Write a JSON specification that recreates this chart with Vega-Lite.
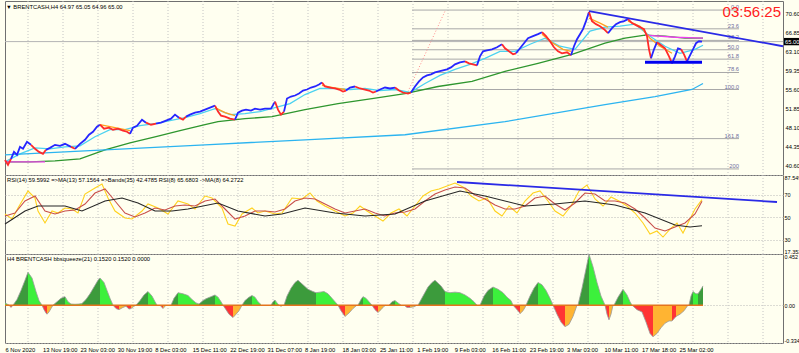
{
"$schema":"https://vega.github.io/schema/vega-lite/v6.json",
"padding":0,
"background":"#fffff0",
"spacing":0,
"bounds":"flush",
"config":{
 "view":{"stroke":"#707070","fill":"#fffff0"},
 "font":"Liberation Sans",
 "axis":{"labelFont":"Liberation Sans","labelFontSize":5.8,"labelColor":"#000000","ticks":false,"tickSize":0,"domain":false,"title":null,"labelPadding":2},
 "axisX":{"labelExpr":"['6 Nov 2020','13 Nov 19:00','23 Nov 03:00','30 Nov 19:00','8 Dec 03:00','15 Dec 11:00','22 Dec 19:00','31 Dec 07:00','8 Jan 19:00','18 Jan 03:00','25 Jan 11:00','1 Feb 19:00','9 Feb 03:00','16 Feb 11:00','23 Feb 19:00','3 Mar 03:00','10 Mar 11:00','17 Mar 18:00','25 Mar 02:00'][round(datum.value/37.44)]",
   "labelAlign":"left","labelBaseline":"top","labelOverlap":false,"labelFlush":false,"grid":false,"labelPadding":3}
},
"datasets":{
 "grid":[{"g":23},{"g":58},{"g":93},{"g":128},{"g":163},{"g":198},{"g":233},{"g":268},{"g":303},{"g":338},{"g":373},{"g":408},{"g":443},{"g":478},{"g":513},{"g":548},{"g":583},{"g":618},{"g":653},{"g":688},{"g":723},{"g":758}],
 "fib":[{"lvl":"0.0","p":71.19},{"lvl":"23.6","p":67.51},{"lvl":"38.2","p":65.24},{"lvl":"50.0","p":63.4},{"lvl":"61.8","p":61.56},{"lvl":"78.6","p":58.94},{"lvl":"100.0","p":55.6},{"lvl":"161.8","p":45.96},{"lvl":"200","p":40.01}],
 "price":[
{"x":0,"p":41.78,"s":1,"c":"d"},{"x":3,"p":40.8,"s":1,"c":"d"},{"x":6,"p":41.98,"s":1,"c":"d"},
{"x":6,"p":41.98,"s":2,"c":"u"},{"x":9,"p":43.36,"s":2,"c":"u"},{"x":12,"p":42.77,"s":2,"c":"u"},{"x":15,"p":44.35,"s":2,"c":"u"},{"x":18,"p":43.96,"s":2,"c":"u"},{"x":22,"p":45.34,"s":2,"c":"u"},{"x":26,"p":44.74,"s":2,"c":"u"},
{"x":26,"p":44.74,"s":3,"c":"d"},{"x":30,"p":43.96,"s":3,"c":"d"},{"x":34,"p":43.36,"s":3,"c":"d"},{"x":38,"p":42.97,"s":3,"c":"d"},{"x":41,"p":43.76,"s":3,"c":"d"},
{"x":41,"p":43.76,"s":4,"c":"u"},{"x":45,"p":44.15,"s":4,"c":"u"},{"x":50,"p":44.74,"s":4,"c":"u"},{"x":55,"p":44.55,"s":4,"c":"u"},{"x":60,"p":44.94,"s":4,"c":"u"},{"x":66,"p":44.35,"s":4,"c":"u"},
{"x":66,"p":44.35,"s":5,"c":"d"},{"x":70,"p":43.96,"s":5,"c":"d"},
{"x":70,"p":43.96,"s":6,"c":"u"},{"x":75,"p":44.94,"s":6,"c":"u"},{"x":80,"p":45.73,"s":6,"c":"u"},{"x":84,"p":46.72,"s":6,"c":"u"},{"x":88,"p":47.31,"s":6,"c":"u"},{"x":92,"p":48.3,"s":6,"c":"u"},{"x":95,"p":48.69,"s":6,"c":"u"},
{"x":95,"p":48.69,"s":7,"c":"d"},{"x":99,"p":47.9,"s":7,"c":"d"},{"x":104,"p":48.1,"s":7,"c":"d"},{"x":108,"p":47.71,"s":7,"c":"d"},{"x":113,"p":47.9,"s":7,"c":"d"},{"x":118,"p":47.51,"s":7,"c":"d"},{"x":122,"p":47.31,"s":7,"c":"d"},{"x":125,"p":46.92,"s":7,"c":"d"},
{"x":125,"p":46.92,"s":8,"c":"u"},{"x":128,"p":48.1,"s":8,"c":"u"},{"x":132,"p":48.49,"s":8,"c":"u"},{"x":137,"p":49.68,"s":8,"c":"u"},{"x":141,"p":49.09,"s":8,"c":"u"},
{"x":141,"p":49.09,"s":9,"c":"d"},{"x":146,"p":48.69,"s":9,"c":"d"},{"x":151,"p":48.89,"s":9,"c":"d"},
{"x":151,"p":48.89,"s":10,"c":"u"},{"x":156,"p":49.09,"s":10,"c":"u"},{"x":161,"p":49.48,"s":10,"c":"u"},{"x":166,"p":49.88,"s":10,"c":"u"},{"x":170,"p":50.67,"s":10,"c":"u"},{"x":174,"p":50.07,"s":10,"c":"u"},
{"x":174,"p":50.07,"s":11,"c":"d"},{"x":178,"p":49.68,"s":11,"c":"d"},{"x":181,"p":50.27,"s":11,"c":"d"},
{"x":181,"p":50.27,"s":12,"c":"u"},{"x":185,"p":50.67,"s":12,"c":"u"},{"x":190,"p":51.06,"s":12,"c":"u"},{"x":195,"p":51.26,"s":12,"c":"u"},{"x":200,"p":51.65,"s":12,"c":"u"},{"x":205,"p":52.05,"s":12,"c":"u"},{"x":210,"p":52.44,"s":12,"c":"u"},
{"x":210,"p":52.44,"s":13,"c":"d"},{"x":213,"p":51.26,"s":13,"c":"d"},{"x":216,"p":50.47,"s":13,"c":"d"},{"x":220,"p":50.27,"s":13,"c":"d"},{"x":225,"p":49.88,"s":13,"c":"d"},{"x":230,"p":49.68,"s":13,"c":"d"},
{"x":230,"p":49.68,"s":14,"c":"u"},{"x":233,"p":51.06,"s":14,"c":"u"},{"x":237,"p":51.46,"s":14,"c":"u"},{"x":241,"p":51.65,"s":14,"c":"u"},{"x":246,"p":51.46,"s":14,"c":"u"},{"x":250,"p":51.85,"s":14,"c":"u"},{"x":255,"p":51.65,"s":14,"c":"u"},{"x":260,"p":51.85,"s":14,"c":"u"},{"x":266,"p":51.85,"s":14,"c":"u"},{"x":270,"p":53.23,"s":14,"c":"u"},
{"x":270,"p":53.23,"s":15,"c":"d"},{"x":273,"p":51.65,"s":15,"c":"d"},{"x":276,"p":50.67,"s":15,"c":"d"},{"x":279,"p":51.26,"s":15,"c":"d"},
{"x":279,"p":51.26,"s":16,"c":"u"},{"x":282,"p":53.82,"s":16,"c":"u"},{"x":286,"p":54.22,"s":16,"c":"u"},{"x":290,"p":54.42,"s":16,"c":"u"},{"x":294,"p":54.81,"s":16,"c":"u"},{"x":298,"p":55.4,"s":16,"c":"u"},{"x":302,"p":55.6,"s":16,"c":"u"},{"x":306,"p":55.99,"s":16,"c":"u"},{"x":310,"p":56.19,"s":16,"c":"u"},{"x":314,"p":56.59,"s":16,"c":"u"},{"x":317,"p":56.98,"s":16,"c":"u"},
{"x":317,"p":56.98,"s":17,"c":"d"},{"x":320,"p":56.19,"s":17,"c":"d"},{"x":325,"p":55.99,"s":17,"c":"d"},{"x":330,"p":55.8,"s":17,"c":"d"},{"x":334,"p":55.6,"s":17,"c":"d"},{"x":338,"p":55.21,"s":17,"c":"d"},{"x":341,"p":55.4,"s":17,"c":"d"},
{"x":341,"p":55.4,"s":18,"c":"u"},{"x":345,"p":55.99,"s":18,"c":"u"},{"x":350,"p":56.19,"s":18,"c":"u"},
{"x":350,"p":56.19,"s":19,"c":"d"},{"x":355,"p":55.8,"s":19,"c":"d"},{"x":360,"p":55.6,"s":19,"c":"d"},{"x":364,"p":55.4,"s":19,"c":"d"},{"x":368,"p":55.01,"s":19,"c":"d"},{"x":371,"p":55.21,"s":19,"c":"d"},
{"x":371,"p":55.21,"s":20,"c":"u"},{"x":375,"p":55.6,"s":20,"c":"u"},{"x":380,"p":55.99,"s":20,"c":"u"},{"x":385,"p":55.8,"s":20,"c":"u"},{"x":390,"p":55.99,"s":20,"c":"u"},
{"x":390,"p":55.99,"s":21,"c":"d"},{"x":394,"p":55.4,"s":21,"c":"d"},{"x":398,"p":55.01,"s":21,"c":"d"},{"x":403,"p":54.81,"s":21,"c":"d"},{"x":406,"p":55.01,"s":21,"c":"d"},
{"x":406,"p":55.01,"s":22,"c":"u"},{"x":410,"p":56.19,"s":22,"c":"u"},{"x":414,"p":57.18,"s":22,"c":"u"},{"x":418,"p":57.97,"s":22,"c":"u"},{"x":422,"p":58.36,"s":22,"c":"u"},{"x":426,"p":58.56,"s":22,"c":"u"},{"x":430,"p":58.96,"s":22,"c":"u"},{"x":434,"p":59.15,"s":22,"c":"u"},{"x":438,"p":59.35,"s":22,"c":"u"},{"x":442,"p":59.55,"s":22,"c":"u"},{"x":446,"p":59.94,"s":22,"c":"u"},{"x":450,"p":60.53,"s":22,"c":"u"},{"x":455,"p":60.93,"s":22,"c":"u"},{"x":460,"p":61.13,"s":22,"c":"u"},
{"x":460,"p":61.13,"s":23,"c":"d"},{"x":464,"p":60.73,"s":23,"c":"d"},{"x":468,"p":60.53,"s":23,"c":"d"},{"x":472,"p":60.34,"s":23,"c":"d"},
{"x":472,"p":60.34,"s":24,"c":"u"},{"x":475,"p":62.11,"s":24,"c":"u"},{"x":478,"p":63.1,"s":24,"c":"u"},{"x":482,"p":63.3,"s":24,"c":"u"},{"x":487,"p":63.49,"s":24,"c":"u"},{"x":492,"p":63.89,"s":24,"c":"u"},{"x":497,"p":64.48,"s":24,"c":"u"},
{"x":497,"p":64.48,"s":25,"c":"d"},{"x":500,"p":63.69,"s":25,"c":"d"},{"x":504,"p":63.1,"s":25,"c":"d"},{"x":508,"p":62.51,"s":25,"c":"d"},{"x":511,"p":62.71,"s":25,"c":"d"},
{"x":511,"p":62.71,"s":26,"c":"u"},{"x":515,"p":63.69,"s":26,"c":"u"},{"x":519,"p":64.68,"s":26,"c":"u"},{"x":523,"p":65.67,"s":26,"c":"u"},{"x":528,"p":66.06,"s":26,"c":"u"},{"x":533,"p":66.46,"s":26,"c":"u"},{"x":537,"p":66.85,"s":26,"c":"u"},
{"x":537,"p":66.85,"s":27,"c":"d"},{"x":541,"p":66.06,"s":27,"c":"d"},{"x":545,"p":65.07,"s":27,"c":"d"},{"x":549,"p":63.89,"s":27,"c":"d"},{"x":553,"p":63.1,"s":27,"c":"d"},{"x":557,"p":62.71,"s":27,"c":"d"},{"x":562,"p":62.9,"s":27,"c":"d"},{"x":566,"p":62.31,"s":27,"c":"d"},
{"x":566,"p":62.31,"s":28,"c":"u"},{"x":569,"p":64.09,"s":28,"c":"u"},{"x":572,"p":65.47,"s":28,"c":"u"},{"x":575,"p":66.46,"s":28,"c":"u"},{"x":578,"p":67.44,"s":28,"c":"u"},{"x":581,"p":69.02,"s":28,"c":"u"},{"x":584,"p":70.8,"s":28,"c":"u"},
{"x":584,"p":70.8,"s":29,"c":"d"},{"x":587,"p":69.02,"s":29,"c":"d"},{"x":591,"p":68.43,"s":29,"c":"d"},{"x":595,"p":68.03,"s":29,"c":"d"},{"x":599,"p":67.44,"s":29,"c":"d"},{"x":603,"p":66.65,"s":29,"c":"d"},
{"x":603,"p":66.65,"s":30,"c":"u"},{"x":607,"p":67.64,"s":30,"c":"u"},{"x":611,"p":68.43,"s":30,"c":"u"},{"x":615,"p":68.82,"s":30,"c":"u"},{"x":619,"p":69.02,"s":30,"c":"u"},{"x":623,"p":69.42,"s":30,"c":"u"},
{"x":623,"p":69.42,"s":31,"c":"d"},{"x":627,"p":68.63,"s":31,"c":"d"},{"x":631,"p":68.23,"s":31,"c":"d"},{"x":635,"p":67.84,"s":31,"c":"d"},{"x":639,"p":67.44,"s":31,"c":"d"},{"x":642,"p":66.06,"s":31,"c":"d"},{"x":644,"p":63.49,"s":31,"c":"d"},{"x":646,"p":61.72,"s":31,"c":"d"},
{"x":646,"p":61.72,"s":32,"c":"u"},{"x":649,"p":63.49,"s":32,"c":"u"},{"x":652,"p":64.88,"s":32,"c":"u"},
{"x":652,"p":64.88,"s":33,"c":"d"},{"x":656,"p":64.28,"s":33,"c":"d"},{"x":660,"p":63.69,"s":33,"c":"d"},{"x":664,"p":62.11,"s":33,"c":"d"},{"x":667,"p":60.73,"s":33,"c":"d"},
{"x":667,"p":60.73,"s":34,"c":"u"},{"x":670,"p":62.11,"s":34,"c":"u"},{"x":673,"p":63.69,"s":34,"c":"u"},{"x":676,"p":63.49,"s":34,"c":"u"},
{"x":676,"p":63.49,"s":35,"c":"d"},{"x":679,"p":62.51,"s":35,"c":"d"},{"x":682,"p":61.13,"s":35,"c":"d"},
{"x":682,"p":61.13,"s":36,"c":"u"},{"x":685,"p":62.31,"s":36,"c":"u"},{"x":688,"p":63.49,"s":36,"c":"u"},{"x":691,"p":64.68,"s":36,"c":"u"},{"x":694,"p":65.07,"s":36,"c":"u"},{"x":697,"p":65.0,"s":36,"c":"u"}
 ],
 "ma":[
{"x":0,"p":41.39,"k":"fast"},{"x":15,"p":42.97,"k":"fast"},{"x":30,"p":44.15,"k":"fast"},{"x":45,"p":43.96,"k":"fast"},{"x":60,"p":44.35,"k":"fast"},{"x":75,"p":44.55,"k":"fast"},{"x":90,"p":46.32,"k":"fast"},{"x":105,"p":47.71,"k":"fast"},{"x":120,"p":47.71,"k":"fast"},{"x":135,"p":48.49,"k":"fast"},{"x":150,"p":48.89,"k":"fast"},{"x":165,"p":49.48,"k":"fast"},{"x":180,"p":50.07,"k":"fast"},{"x":195,"p":50.86,"k":"fast"},{"x":210,"p":51.85,"k":"fast"},{"x":225,"p":50.67,"k":"fast"},{"x":240,"p":50.86,"k":"fast"},{"x":255,"p":51.26,"k":"fast"},{"x":270,"p":52.05,"k":"fast"},{"x":285,"p":52.84,"k":"fast"},{"x":300,"p":54.61,"k":"fast"},{"x":315,"p":55.8,"k":"fast"},{"x":330,"p":55.8,"k":"fast"},{"x":345,"p":55.6,"k":"fast"},{"x":360,"p":55.8,"k":"fast"},{"x":375,"p":55.4,"k":"fast"},{"x":390,"p":55.6,"k":"fast"},{"x":405,"p":55.01,"k":"fast"},{"x":420,"p":56.78,"k":"fast"},{"x":435,"p":58.36,"k":"fast"},{"x":450,"p":59.55,"k":"fast"},{"x":465,"p":60.53,"k":"fast"},{"x":480,"p":61.72,"k":"fast"},{"x":495,"p":63.1,"k":"fast"},{"x":510,"p":63.1,"k":"fast"},{"x":525,"p":64.48,"k":"fast"},{"x":540,"p":65.67,"k":"fast"},{"x":555,"p":64.09,"k":"fast"},{"x":570,"p":63.49,"k":"fast"},{"x":585,"p":67.05,"k":"fast"},{"x":600,"p":67.84,"k":"fast"},{"x":615,"p":68.03,"k":"fast"},{"x":630,"p":68.43,"k":"fast"},{"x":645,"p":66.06,"k":"fast"},{"x":660,"p":64.09,"k":"fast"},{"x":675,"p":62.71,"k":"fast"},{"x":690,"p":63.49,"k":"fast"},{"x":698,"p":64.28,"k":"fast"},
{"x":0,"p":41.39,"k":"green"},{"x":25,"p":41.39,"k":"green"},{"x":50,"p":41.59,"k":"green"},{"x":75,"p":41.98,"k":"green"},{"x":100,"p":43.76,"k":"green"},{"x":125,"p":45.14,"k":"green"},{"x":150,"p":46.32,"k":"green"},{"x":175,"p":47.51,"k":"green"},{"x":200,"p":48.69,"k":"green"},{"x":213,"p":49.28,"k":"green"},{"x":240,"p":49.88,"k":"green"},{"x":267,"p":50.27,"k":"green"},{"x":300,"p":51.65,"k":"green"},{"x":333,"p":52.84,"k":"green"},{"x":367,"p":53.82,"k":"green"},{"x":400,"p":54.81,"k":"green"},{"x":433,"p":56.19,"k":"green"},{"x":467,"p":57.18,"k":"green"},{"x":500,"p":59.15,"k":"green"},{"x":533,"p":60.73,"k":"green"},{"x":567,"p":62.51,"k":"green"},{"x":600,"p":64.68,"k":"green"},{"x":620,"p":65.67,"k":"green"},{"x":640,"p":66.26,"k":"green"},{"x":660,"p":66.06,"k":"green"},{"x":680,"p":65.67,"k":"green"},{"x":698,"p":65.67,"k":"green"},
{"x":0,"p":42.77,"k":"sky"},{"x":100,"p":43.76,"k":"sky"},{"x":200,"p":44.74,"k":"sky"},{"x":300,"p":45.73,"k":"sky"},{"x":400,"p":46.72,"k":"sky"},{"x":500,"p":49.28,"k":"sky"},{"x":600,"p":52.64,"k":"sky"},{"x":650,"p":54.22,"k":"sky"},{"x":687,"p":55.6,"k":"sky"},{"x":698,"p":56.78,"k":"sky"},
{"x":0,"p":41.39,"k":"mag1"},{"x":40,"p":41.39,"k":"mag1"},
{"x":640,"p":66.26,"k":"mag2"},{"x":670,"p":65.86,"k":"mag2"},{"x":698,"p":65.67,"k":"mag2"},
{"x":95,"p":48.69,"k":"o1"},{"x":105,"p":48.3,"k":"o1"},{"x":115,"p":47.9,"k":"o1"},{"x":125,"p":47.51,"k":"o1"},
{"x":210,"p":52.05,"k":"o2"},{"x":220,"p":51.06,"k":"o2"},{"x":230,"p":50.47,"k":"o2"},
{"x":317,"p":56.39,"k":"o3"},{"x":328,"p":55.99,"k":"o3"},{"x":340,"p":55.6,"k":"o3"},
{"x":537,"p":66.46,"k":"o4"},{"x":548,"p":64.68,"k":"o4"},{"x":558,"p":63.49,"k":"o4"},{"x":566,"p":63.1,"k":"o4"},
{"x":584,"p":69.61,"k":"o5"},{"x":595,"p":68.63,"k":"o5"},{"x":603,"p":67.84,"k":"o5"},
{"x":623,"p":69.02,"k":"o6"},{"x":635,"p":68.03,"k":"o6"},{"x":645,"p":65.67,"k":"o6"},{"x":655,"p":64.09,"k":"o6"},{"x":667,"p":62.71,"k":"o6"}
 ],
 "trend":[{"x":584,"p":70.99,"k":"t"},{"x":778,"p":64.09,"k":"t"},{"x":640,"p":60.93,"k":"s"},{"x":697,"p":60.93,"k":"s"}],
 "rsi":[
{"x":0,"v":52.88,"k":"y"},{"x":7,"v":48.44,"k":"y"},{"x":13,"v":58.22,"k":"y"},{"x":23,"v":73.33,"k":"y"},{"x":30,"v":67.11,"k":"y"},{"x":33,"v":55.55,"k":"y"},{"x":40,"v":44.88,"k":"y"},{"x":47,"v":55.55,"k":"y"},{"x":53,"v":53.77,"k":"y"},{"x":60,"v":58.22,"k":"y"},{"x":67,"v":57.33,"k":"y"},{"x":73,"v":53.77,"k":"y"},{"x":80,"v":70.66,"k":"y"},{"x":90,"v":75.99,"k":"y"},{"x":97,"v":79.55,"k":"y"},{"x":103,"v":67.11,"k":"y"},{"x":110,"v":55.55,"k":"y"},{"x":120,"v":49.33,"k":"y"},{"x":127,"v":48.44,"k":"y"},{"x":137,"v":55.55,"k":"y"},{"x":143,"v":61.77,"k":"y"},{"x":153,"v":58.22,"k":"y"},{"x":163,"v":52.88,"k":"y"},{"x":173,"v":64.44,"k":"y"},{"x":183,"v":61.77,"k":"y"},{"x":190,"v":57.33,"k":"y"},{"x":200,"v":68.88,"k":"y"},{"x":207,"v":67.11,"k":"y"},{"x":217,"v":58.22,"k":"y"},{"x":223,"v":43.99,"k":"y"},{"x":230,"v":42.21,"k":"y"},{"x":237,"v":52.88,"k":"y"},{"x":247,"v":58.22,"k":"y"},{"x":253,"v":53.77,"k":"y"},{"x":260,"v":55.55,"k":"y"},{"x":270,"v":52.88,"k":"y"},{"x":277,"v":53.77,"k":"y"},{"x":287,"v":67.11,"k":"y"},{"x":297,"v":66.22,"k":"y"},{"x":305,"v":71.55,"k":"y"},{"x":312,"v":64.44,"k":"y"},{"x":320,"v":59.99,"k":"y"},{"x":330,"v":55.55,"k":"y"},{"x":340,"v":51.1,"k":"y"},{"x":348,"v":53.77,"k":"y"},{"x":355,"v":59.99,"k":"y"},{"x":362,"v":55.55,"k":"y"},{"x":370,"v":51.1,"k":"y"},{"x":378,"v":46.66,"k":"y"},{"x":386,"v":53.77,"k":"y"},{"x":394,"v":57.33,"k":"y"},{"x":402,"v":51.1,"k":"y"},{"x":410,"v":59.99,"k":"y"},{"x":418,"v":68.88,"k":"y"},{"x":426,"v":73.33,"k":"y"},{"x":434,"v":75.11,"k":"y"},{"x":442,"v":77.77,"k":"y"},{"x":450,"v":80.44,"k":"y"},{"x":458,"v":76.88,"k":"y"},{"x":466,"v":68.88,"k":"y"},{"x":474,"v":64.44,"k":"y"},{"x":482,"v":67.11,"k":"y"},{"x":490,"v":55.55,"k":"y"},{"x":497,"v":51.1,"k":"y"},{"x":504,"v":59.99,"k":"y"},{"x":512,"v":53.77,"k":"y"},{"x":520,"v":64.44,"k":"y"},{"x":528,"v":71.55,"k":"y"},{"x":535,"v":73.33,"k":"y"},{"x":543,"v":64.44,"k":"y"},{"x":550,"v":55.55,"k":"y"},{"x":558,"v":51.1,"k":"y"},{"x":566,"v":59.99,"k":"y"},{"x":574,"v":73.33,"k":"y"},{"x":582,"v":78.66,"k":"y"},{"x":590,"v":66.22,"k":"y"},{"x":598,"v":59.99,"k":"y"},{"x":606,"v":67.99,"k":"y"},{"x":614,"v":64.44,"k":"y"},{"x":622,"v":59.99,"k":"y"},{"x":630,"v":53.77,"k":"y"},{"x":638,"v":44.88,"k":"y"},{"x":645,"v":35.1,"k":"y"},{"x":652,"v":37.77,"k":"y"},{"x":658,"v":32.44,"k":"y"},{"x":665,"v":39.55,"k":"y"},{"x":672,"v":44.88,"k":"y"},{"x":678,"v":36.0,"k":"y"},{"x":684,"v":46.66,"k":"y"},{"x":690,"v":57.33,"k":"y"},{"x":697,"v":65.68,"k":"y"},
{"x":0,"v":51.1,"k":"r"},{"x":10,"v":53.77,"k":"r"},{"x":20,"v":64.44,"k":"r"},{"x":30,"v":68.88,"k":"r"},{"x":40,"v":55.55,"k":"r"},{"x":50,"v":52.88,"k":"r"},{"x":60,"v":55.55,"k":"r"},{"x":70,"v":56.44,"k":"r"},{"x":80,"v":61.77,"k":"r"},{"x":90,"v":71.55,"k":"r"},{"x":100,"v":75.11,"k":"r"},{"x":110,"v":64.44,"k":"r"},{"x":120,"v":53.77,"k":"r"},{"x":130,"v":50.21,"k":"r"},{"x":140,"v":53.77,"k":"r"},{"x":150,"v":58.22,"k":"r"},{"x":160,"v":56.44,"k":"r"},{"x":170,"v":59.99,"k":"r"},{"x":180,"v":60.88,"k":"r"},{"x":190,"v":59.99,"k":"r"},{"x":200,"v":64.44,"k":"r"},{"x":210,"v":66.22,"k":"r"},{"x":220,"v":57.33,"k":"r"},{"x":230,"v":48.44,"k":"r"},{"x":240,"v":51.1,"k":"r"},{"x":250,"v":55.55,"k":"r"},{"x":260,"v":55.55,"k":"r"},{"x":270,"v":54.66,"k":"r"},{"x":280,"v":57.33,"k":"r"},{"x":290,"v":64.44,"k":"r"},{"x":300,"v":67.11,"k":"r"},{"x":310,"v":66.22,"k":"r"},{"x":320,"v":61.77,"k":"r"},{"x":330,"v":57.33,"k":"r"},{"x":340,"v":53.77,"k":"r"},{"x":350,"v":55.55,"k":"r"},{"x":360,"v":57.33,"k":"r"},{"x":370,"v":53.77,"k":"r"},{"x":380,"v":51.1,"k":"r"},{"x":390,"v":53.77,"k":"r"},{"x":400,"v":54.66,"k":"r"},{"x":410,"v":57.33,"k":"r"},{"x":420,"v":64.44,"k":"r"},{"x":430,"v":70.66,"k":"r"},{"x":440,"v":74.22,"k":"r"},{"x":450,"v":76.88,"k":"r"},{"x":460,"v":75.99,"k":"r"},{"x":470,"v":69.77,"k":"r"},{"x":480,"v":66.22,"k":"r"},{"x":490,"v":60.88,"k":"r"},{"x":500,"v":57.33,"k":"r"},{"x":510,"v":57.33,"k":"r"},{"x":520,"v":59.99,"k":"r"},{"x":530,"v":67.11,"k":"r"},{"x":540,"v":68.88,"k":"r"},{"x":550,"v":61.77,"k":"r"},{"x":560,"v":56.44,"k":"r"},{"x":570,"v":62.66,"k":"r"},{"x":580,"v":71.55,"k":"r"},{"x":590,"v":70.66,"k":"r"},{"x":600,"v":64.44,"k":"r"},{"x":610,"v":64.44,"k":"r"},{"x":620,"v":62.66,"k":"r"},{"x":630,"v":57.33,"k":"r"},{"x":640,"v":49.33,"k":"r"},{"x":650,"v":40.44,"k":"r"},{"x":660,"v":37.77,"k":"r"},{"x":670,"v":41.32,"k":"r"},{"x":680,"v":44.88,"k":"r"},{"x":690,"v":52.88,"k":"r"},{"x":697,"v":64.27,"k":"r"},
{"x":0,"v":43.99,"k":"b"},{"x":20,"v":55.55,"k":"b"},{"x":33,"v":59.99,"k":"b"},{"x":60,"v":59.99,"k":"b"},{"x":77,"v":55.55,"k":"b"},{"x":100,"v":64.44,"k":"b"},{"x":117,"v":67.11,"k":"b"},{"x":133,"v":62.66,"k":"b"},{"x":150,"v":55.55,"k":"b"},{"x":167,"v":55.55,"k":"b"},{"x":183,"v":57.33,"k":"b"},{"x":213,"v":62.66,"k":"b"},{"x":233,"v":55.55,"k":"b"},{"x":260,"v":51.1,"k":"b"},{"x":277,"v":52.88,"k":"b"},{"x":300,"v":58.22,"k":"b"},{"x":330,"v":53.77,"k":"b"},{"x":360,"v":51.1,"k":"b"},{"x":390,"v":52.88,"k":"b"},{"x":420,"v":64.44,"k":"b"},{"x":455,"v":73.33,"k":"b"},{"x":480,"v":68.88,"k":"b"},{"x":520,"v":59.99,"k":"b"},{"x":550,"v":61.77,"k":"b"},{"x":580,"v":64.44,"k":"b"},{"x":610,"v":60.88,"k":"b"},{"x":640,"v":53.77,"k":"b"},{"x":670,"v":43.1,"k":"b"},{"x":685,"v":41.32,"k":"b"},{"x":697,"v":42.48,"k":"b"}
 ],
 "bb":[
{"x":0,"v":0.02,"s":1,"c":"lg"},{"x":2,"v":0.01,"s":1,"c":"lg"},{"x":4,"v":0,"s":1,"c":"lg"},
{"x":4,"v":0,"s":2,"c":"rd"},{"x":6,"v":-0.02,"s":2,"c":"rd"},{"x":8,"v":0,"s":2,"c":"rd"},
{"x":8,"v":0,"s":3,"c":"dg"},{"x":12,"v":0.05,"s":3,"c":"dg"},{"x":16,"v":0.13,"s":3,"c":"dg"},{"x":20,"v":0.22,"s":3,"c":"dg"},{"x":23,"v":0.29,"s":3,"c":"dg"},
{"x":23,"v":0.29,"s":4,"c":"lg"},{"x":27,"v":0.24,"s":4,"c":"lg"},{"x":31,"v":0.12,"s":4,"c":"lg"},{"x":34,"v":0.04,"s":4,"c":"lg"},{"x":37,"v":0,"s":4,"c":"lg"},
{"x":37,"v":0,"s":5,"c":"rd"},{"x":39,"v":-0.04,"s":5,"c":"rd"},{"x":41,"v":-0.07,"s":5,"c":"rd"},{"x":42,"v":-0.08,"s":5,"c":"rd"},
{"x":42,"v":-0.08,"s":6,"c":"or"},{"x":44,"v":-0.06,"s":6,"c":"or"},{"x":46,"v":-0.03,"s":6,"c":"or"},{"x":48,"v":0,"s":6,"c":"or"},
{"x":48,"v":0,"s":7,"c":"dg"},{"x":52,"v":0.03,"s":7,"c":"dg"},{"x":56,"v":0.06,"s":7,"c":"dg"},{"x":60,"v":0.075,"s":7,"c":"dg"},
{"x":60,"v":0.075,"s":8,"c":"lg"},{"x":63,"v":0.03,"s":8,"c":"lg"},{"x":66,"v":0.01,"s":8,"c":"lg"},{"x":70,"v":0.008,"s":8,"c":"lg"},{"x":74,"v":0.01,"s":8,"c":"lg"},{"x":77,"v":0.015,"s":8,"c":"lg"},
{"x":77,"v":0.015,"s":9,"c":"dg"},{"x":81,"v":0.05,"s":9,"c":"dg"},{"x":85,"v":0.1,"s":9,"c":"dg"},{"x":89,"v":0.16,"s":9,"c":"dg"},{"x":93,"v":0.22,"s":9,"c":"dg"},{"x":95,"v":0.24,"s":9,"c":"dg"},
{"x":95,"v":0.24,"s":10,"c":"lg"},{"x":99,"v":0.2,"s":10,"c":"lg"},{"x":102,"v":0.13,"s":10,"c":"lg"},{"x":105,"v":0.06,"s":10,"c":"lg"},{"x":108,"v":0,"s":10,"c":"lg"},
{"x":108,"v":0,"s":11,"c":"rd"},{"x":111,"v":-0.03,"s":11,"c":"rd"},{"x":114,"v":-0.04,"s":11,"c":"rd"},
{"x":114,"v":-0.04,"s":12,"c":"or"},{"x":118,"v":-0.02,"s":12,"c":"or"},{"x":121,"v":-0.01,"s":12,"c":"or"},
{"x":121,"v":-0.01,"s":13,"c":"rd"},{"x":124,"v":-0.035,"s":13,"c":"rd"},{"x":126,"v":-0.03,"s":13,"c":"rd"},
{"x":126,"v":-0.03,"s":14,"c":"or"},{"x":129,"v":-0.01,"s":14,"c":"or"},{"x":131,"v":0,"s":14,"c":"or"},
{"x":131,"v":0,"s":15,"c":"dg"},{"x":135,"v":0.04,"s":15,"c":"dg"},{"x":139,"v":0.09,"s":15,"c":"dg"},{"x":143,"v":0.12,"s":15,"c":"dg"},
{"x":143,"v":0.12,"s":16,"c":"lg"},{"x":147,"v":0.08,"s":16,"c":"lg"},{"x":150,"v":0.03,"s":16,"c":"lg"},{"x":152,"v":0,"s":16,"c":"lg"},
{"x":155,"v":0,"s":17,"c":"rd"},{"x":158,"v":-0.03,"s":17,"c":"rd"},
{"x":158,"v":-0.03,"s":18,"c":"or"},{"x":161,"v":0,"s":18,"c":"or"},
{"x":166,"v":0,"s":19,"c":"dg"},{"x":169,"v":0.06,"s":19,"c":"dg"},{"x":173,"v":0.11,"s":19,"c":"dg"},
{"x":173,"v":0.11,"s":20,"c":"lg"},{"x":178,"v":0.1,"s":20,"c":"lg"},{"x":183,"v":0.085,"s":20,"c":"lg"},{"x":187,"v":0.05,"s":20,"c":"lg"},{"x":191,"v":0.02,"s":20,"c":"lg"},{"x":194,"v":0.01,"s":20,"c":"lg"},
{"x":194,"v":0.01,"s":21,"c":"dg"},{"x":198,"v":0.04,"s":21,"c":"dg"},{"x":202,"v":0.06,"s":21,"c":"dg"},{"x":206,"v":0.075,"s":21,"c":"dg"},{"x":210,"v":0.09,"s":21,"c":"dg"},
{"x":210,"v":0.09,"s":22,"c":"lg"},{"x":213,"v":0.07,"s":22,"c":"lg"},{"x":216,"v":0.03,"s":22,"c":"lg"},{"x":218,"v":0,"s":22,"c":"lg"},
{"x":218,"v":0,"s":23,"c":"rd"},{"x":221,"v":-0.04,"s":23,"c":"rd"},{"x":224,"v":-0.08,"s":23,"c":"rd"},{"x":228,"v":-0.11,"s":23,"c":"rd"},
{"x":228,"v":-0.11,"s":24,"c":"or"},{"x":231,"v":-0.08,"s":24,"c":"or"},{"x":234,"v":-0.05,"s":24,"c":"or"},{"x":237,"v":0,"s":24,"c":"or"},
{"x":237,"v":0,"s":25,"c":"dg"},{"x":240,"v":0.04,"s":25,"c":"dg"},{"x":244,"v":0.07,"s":25,"c":"dg"},{"x":247,"v":0.085,"s":25,"c":"dg"},
{"x":247,"v":0.085,"s":26,"c":"lg"},{"x":250,"v":0.07,"s":26,"c":"lg"},{"x":253,"v":0.03,"s":26,"c":"lg"},{"x":256,"v":0.005,"s":26,"c":"lg"},
{"x":266,"v":0,"s":27,"c":"dg"},{"x":268,"v":0.03,"s":27,"c":"dg"},{"x":270,"v":0.045,"s":27,"c":"dg"},
{"x":270,"v":0.045,"s":28,"c":"lg"},{"x":272,"v":0.02,"s":28,"c":"lg"},{"x":274,"v":0,"s":28,"c":"lg"},
{"x":274,"v":0,"s":29,"c":"rd"},{"x":276,"v":-0.01,"s":29,"c":"rd"},{"x":278,"v":0,"s":29,"c":"rd"},
{"x":279,"v":0,"s":30,"c":"dg"},{"x":282,"v":0.08,"s":30,"c":"dg"},{"x":286,"v":0.15,"s":30,"c":"dg"},{"x":290,"v":0.2,"s":30,"c":"dg"},{"x":293,"v":0.22,"s":30,"c":"dg"},{"x":298,"v":0.18,"s":30,"c":"dg"},{"x":303,"v":0.14,"s":30,"c":"dg"},{"x":308,"v":0.12,"s":30,"c":"dg"},{"x":311,"v":0.11,"s":30,"c":"dg"},
{"x":311,"v":0.11,"s":31,"c":"lg"},{"x":315,"v":0.115,"s":31,"c":"lg"},{"x":319,"v":0.12,"s":31,"c":"lg"},{"x":323,"v":0.1,"s":31,"c":"lg"},{"x":327,"v":0.06,"s":31,"c":"lg"},{"x":331,"v":0.02,"s":31,"c":"lg"},{"x":333,"v":0,"s":31,"c":"lg"},
{"x":333,"v":0,"s":32,"c":"rd"},{"x":336,"v":-0.05,"s":32,"c":"rd"},{"x":340,"v":-0.1,"s":32,"c":"rd"},
{"x":340,"v":-0.1,"s":33,"c":"or"},{"x":344,"v":-0.07,"s":33,"c":"or"},{"x":348,"v":-0.03,"s":33,"c":"or"},{"x":352,"v":0,"s":33,"c":"or"},
{"x":353,"v":0,"s":34,"c":"dg"},{"x":356,"v":0.05,"s":34,"c":"dg"},{"x":358,"v":0.075,"s":34,"c":"dg"},
{"x":358,"v":0.075,"s":35,"c":"lg"},{"x":361,"v":0.06,"s":35,"c":"lg"},{"x":364,"v":0.03,"s":35,"c":"lg"},{"x":367,"v":0,"s":35,"c":"lg"},
{"x":367,"v":0,"s":36,"c":"rd"},{"x":370,"v":-0.04,"s":36,"c":"rd"},{"x":373,"v":-0.065,"s":36,"c":"rd"},
{"x":373,"v":-0.065,"s":37,"c":"or"},{"x":376,"v":-0.04,"s":37,"c":"or"},{"x":379,"v":-0.01,"s":37,"c":"or"},{"x":381,"v":0,"s":37,"c":"or"},
{"x":384,"v":0,"s":38,"c":"dg"},{"x":387,"v":0.03,"s":38,"c":"dg"},{"x":390,"v":0.04,"s":38,"c":"dg"},
{"x":390,"v":0.04,"s":39,"c":"lg"},{"x":393,"v":0.02,"s":39,"c":"lg"},{"x":396,"v":0,"s":39,"c":"lg"},
{"x":399,"v":0,"s":40,"c":"rd"},{"x":402,"v":-0.02,"s":40,"c":"rd"},{"x":405,"v":-0.02,"s":40,"c":"rd"},
{"x":405,"v":-0.02,"s":41,"c":"or"},{"x":409,"v":-0.015,"s":41,"c":"or"},{"x":412,"v":0,"s":41,"c":"or"},
{"x":413,"v":0,"s":42,"c":"dg"},{"x":418,"v":0.08,"s":42,"c":"dg"},{"x":423,"v":0.16,"s":42,"c":"dg"},{"x":427,"v":0.2,"s":42,"c":"dg"},{"x":430,"v":0.22,"s":42,"c":"dg"},{"x":436,"v":0.17,"s":42,"c":"dg"},{"x":440,"v":0.12,"s":42,"c":"dg"},
{"x":440,"v":0.12,"s":43,"c":"lg"},{"x":445,"v":0.11,"s":43,"c":"lg"},{"x":450,"v":0.115,"s":43,"c":"lg"},{"x":455,"v":0.11,"s":43,"c":"lg"},{"x":460,"v":0.09,"s":43,"c":"lg"},{"x":465,"v":0.06,"s":43,"c":"lg"},{"x":469,"v":0.03,"s":43,"c":"lg"},{"x":472,"v":0,"s":43,"c":"lg"},
{"x":475,"v":0,"s":44,"c":"dg"},{"x":479,"v":0.08,"s":44,"c":"dg"},{"x":483,"v":0.13,"s":44,"c":"dg"},{"x":488,"v":0.16,"s":44,"c":"dg"},
{"x":488,"v":0.16,"s":45,"c":"lg"},{"x":493,"v":0.14,"s":45,"c":"lg"},{"x":498,"v":0.11,"s":45,"c":"lg"},{"x":502,"v":0.07,"s":45,"c":"lg"},{"x":506,"v":0.04,"s":45,"c":"lg"},{"x":508,"v":0,"s":45,"c":"lg"},
{"x":508,"v":0,"s":46,"c":"rd"},{"x":511,"v":-0.03,"s":46,"c":"rd"},{"x":514,"v":-0.06,"s":46,"c":"rd"},{"x":515,"v":-0.075,"s":46,"c":"rd"},
{"x":515,"v":-0.075,"s":47,"c":"or"},{"x":518,"v":-0.05,"s":47,"c":"or"},{"x":520,"v":-0.02,"s":47,"c":"or"},{"x":521,"v":0,"s":47,"c":"or"},
{"x":521,"v":0,"s":48,"c":"dg"},{"x":525,"v":0.08,"s":48,"c":"dg"},{"x":529,"v":0.15,"s":48,"c":"dg"},{"x":533,"v":0.2,"s":48,"c":"dg"},
{"x":533,"v":0.2,"s":49,"c":"lg"},{"x":537,"v":0.18,"s":49,"c":"lg"},{"x":541,"v":0.13,"s":49,"c":"lg"},{"x":545,"v":0.06,"s":49,"c":"lg"},{"x":548,"v":0,"s":49,"c":"lg"},
{"x":548,"v":0,"s":50,"c":"rd"},{"x":552,"v":-0.08,"s":50,"c":"rd"},{"x":556,"v":-0.15,"s":50,"c":"rd"},{"x":560,"v":-0.19,"s":50,"c":"rd"},
{"x":560,"v":-0.19,"s":51,"c":"or"},{"x":564,"v":-0.17,"s":51,"c":"or"},{"x":568,"v":-0.1,"s":51,"c":"or"},{"x":572,"v":0,"s":51,"c":"or"},
{"x":573,"v":0,"s":52,"c":"dg"},{"x":577,"v":0.15,"s":52,"c":"dg"},{"x":581,"v":0.32,"s":52,"c":"dg"},{"x":584,"v":0.45,"s":52,"c":"dg"},
{"x":584,"v":0.45,"s":53,"c":"lg"},{"x":588,"v":0.34,"s":53,"c":"lg"},{"x":592,"v":0.2,"s":53,"c":"lg"},{"x":596,"v":0.08,"s":53,"c":"lg"},{"x":600,"v":0,"s":53,"c":"lg"},
{"x":600,"v":0,"s":54,"c":"rd"},{"x":602,"v":-0.08,"s":54,"c":"rd"},{"x":604,"v":-0.13,"s":54,"c":"rd"},
{"x":604,"v":-0.13,"s":55,"c":"or"},{"x":606,"v":-0.08,"s":55,"c":"or"},{"x":608,"v":0,"s":55,"c":"or"},
{"x":609,"v":0,"s":56,"c":"dg"},{"x":613,"v":0.07,"s":56,"c":"dg"},{"x":618,"v":0.14,"s":56,"c":"dg"},
{"x":618,"v":0.14,"s":57,"c":"lg"},{"x":622,"v":0.09,"s":57,"c":"lg"},{"x":625,"v":0.03,"s":57,"c":"lg"},{"x":627,"v":0,"s":57,"c":"lg"},
{"x":627,"v":0,"s":58,"c":"rd"},{"x":632,"v":-0.04,"s":58,"c":"rd"},{"x":637,"v":-0.06,"s":58,"c":"rd"},{"x":641,"v":-0.15,"s":58,"c":"rd"},{"x":645,"v":-0.25,"s":58,"c":"rd"},{"x":648,"v":-0.28,"s":58,"c":"rd"},
{"x":648,"v":-0.28,"s":59,"c":"or"},{"x":652,"v":-0.25,"s":59,"c":"or"},{"x":656,"v":-0.2,"s":59,"c":"or"},{"x":660,"v":-0.16,"s":59,"c":"or"},{"x":664,"v":-0.14,"s":59,"c":"or"},{"x":667,"v":-0.14,"s":59,"c":"or"},
{"x":667,"v":-0.14,"s":60,"c":"rd"},{"x":671,"v":-0.1,"s":60,"c":"rd"},
{"x":671,"v":-0.1,"s":61,"c":"or"},{"x":675,"v":-0.08,"s":61,"c":"or"},{"x":679,"v":-0.05,"s":61,"c":"or"},{"x":683,"v":0,"s":61,"c":"or"},
{"x":684,"v":0,"s":62,"c":"dg"},{"x":686,"v":0.08,"s":62,"c":"dg"},{"x":688,"v":0.12,"s":62,"c":"dg"},
{"x":688,"v":0.12,"s":63,"c":"lg"},{"x":691,"v":0.1,"s":63,"c":"lg"},{"x":693,"v":0.1,"s":63,"c":"lg"},
{"x":693,"v":0.1,"s":64,"c":"dg"},{"x":696,"v":0.14,"s":64,"c":"dg"},{"x":698,"v":0.17,"s":64,"c":"dg"}
 ]
},
"vconcat":[
 {
  "width":778,"height":174,
  "resolve":{"scale":{"color":"independent","strokeWidth":"independent"}},
  "layer":[
   {"data":{"name":"grid"},"mark":{"type":"rule","stroke":"#c4c4c4","strokeDash":[1,2]},
    "encoding":{"x":{"field":"g","type":"quantitative","scale":{"domain":[0,778],"nice":false,"zero":false},"axis":null}}},
   {"data":{"values":[{"p":65.0}]},"mark":{"type":"rule","stroke":"#b4b4b4"},
    "encoding":{"y":{"field":"p","type":"quantitative","scale":{"domain":[38.82,72.97],"nice":false,"zero":false},
      "axis":{"orient":"right","values":[70.6,66.85,63.1,59.35,55.6,51.85,48.1,44.35,40.6],"format":".2f","grid":false,"labelFlush":false}}}},
   {"data":{"name":"fib"},"mark":{"type":"rule","stroke":"#a8a8a8"},
    "encoding":{"x":{"datum":407,"type":"quantitative","scale":{"domain":[0,778],"nice":false,"zero":false},"axis":null},"x2":{"datum":734},
     "y":{"field":"p","type":"quantitative","scale":{"domain":[38.82,72.97],"nice":false,"zero":false},"axis":{"orient":"right","values":[70.6,66.85,63.1,59.35,55.6,51.85,48.1,44.35,40.6],"format":".2f","grid":false,"labelFlush":false}}}},
   {"data":{"name":"fib"},"mark":{"type":"text","align":"right","baseline":"bottom","fontSize":5.8,"color":"#7070a0"},
    "encoding":{"x":{"datum":734,"type":"quantitative","scale":{"domain":[0,778],"nice":false,"zero":false},"axis":null},
     "y":{"field":"p","type":"quantitative","scale":{"domain":[38.82,72.97],"nice":false,"zero":false},"axis":{"orient":"right","values":[70.6,66.85,63.1,59.35,55.6,51.85,48.1,44.35,40.6],"format":".2f","grid":false,"labelFlush":false}},"text":{"field":"lvl"}}},
   {"data":{"values":[{"x":403,"p":55.21},{"x":440,"p":70.99}]},"mark":{"type":"line","stroke":"#ff8c8c","strokeDash":[1,2],"strokeWidth":1},
    "encoding":{"x":{"field":"x","type":"quantitative","scale":{"domain":[0,778],"nice":false,"zero":false},"axis":null},
     "y":{"field":"p","type":"quantitative","scale":{"domain":[38.82,72.97],"nice":false,"zero":false},"axis":{"orient":"right","values":[70.6,66.85,63.1,59.35,55.6,51.85,48.1,44.35,40.6],"format":".2f","grid":false,"labelFlush":false}}}},
   {"data":{"name":"ma"},"mark":{"type":"line","strokeWidth":1.3},
    "encoding":{"x":{"field":"x","type":"quantitative","scale":{"domain":[0,778],"nice":false,"zero":false},"axis":null},
     "y":{"field":"p","type":"quantitative","scale":{"domain":[38.82,72.97],"nice":false,"zero":false},"axis":{"orient":"right","values":[70.6,66.85,63.1,59.35,55.6,51.85,48.1,44.35,40.6],"format":".2f","grid":false,"labelFlush":false}},
     "color":{"field":"k","type":"nominal","scale":{"domain":["fast","green","sky","mag1","mag2","o1","o2","o3","o4","o5","o6"],"range":["#4cd2f0","#2e962e","#2cb4f0","#ee40ee","#ee40ee","#ffa01e","#ffa01e","#ffa01e","#ffa01e","#ffa01e","#ffa01e"]},"legend":null}}},
   {"data":{"name":"price"},"mark":{"type":"line","strokeWidth":1.8},
    "encoding":{"x":{"field":"x","type":"quantitative","scale":{"domain":[0,778],"nice":false,"zero":false},"axis":null},
     "y":{"field":"p","type":"quantitative","scale":{"domain":[38.82,72.97],"nice":false,"zero":false},"axis":{"orient":"right","values":[70.6,66.85,63.1,59.35,55.6,51.85,48.1,44.35,40.6],"format":".2f","grid":false,"labelFlush":false}},
     "detail":{"field":"s","type":"nominal"},
     "color":{"field":"c","type":"nominal","scale":{"domain":["u","d"],"range":["#2626ff","#ff2a2a"]},"legend":null}}},
   {"data":{"name":"trend"},"mark":{"type":"line"},
    "encoding":{"x":{"field":"x","type":"quantitative","scale":{"domain":[0,778],"nice":false,"zero":false},"axis":null},
     "y":{"field":"p","type":"quantitative","scale":{"domain":[38.82,72.97],"nice":false,"zero":false},"axis":{"orient":"right","values":[70.6,66.85,63.1,59.35,55.6,51.85,48.1,44.35,40.6],"format":".2f","grid":false,"labelFlush":false}},
     "detail":{"field":"k","type":"nominal"},
     "color":{"field":"k","type":"nominal","scale":{"domain":["t","s"],"range":["#2a2ae6","#0000f0"]},"legend":null},
     "strokeWidth":{"field":"k","type":"nominal","scale":{"domain":["t","s"],"range":[1.8,3]},"legend":null}}},
   {"data":{"values":[{"clock":"03:56:25"}]},"mark":{"type":"text","align":"right","baseline":"middle","fontSize":15,"color":"#ff2020","font":"Liberation Sans"},
    "encoding":{"x":{"datum":776,"type":"quantitative","scale":{"domain":[0,778],"nice":false,"zero":false},"axis":null},
     "y":{"datum":70.9,"type":"quantitative","scale":{"domain":[38.82,72.97],"nice":false,"zero":false},"axis":{"orient":"right","values":[70.6,66.85,63.1,59.35,55.6,51.85,48.1,44.35,40.6],"format":".2f","grid":false,"labelFlush":false}},"text":{"field":"clock"}}},
   {"data":{"values":[{"h":"▼  BRENTCASH,H4  64.97 65.05 64.96 65.00"}]},"mark":{"type":"text","align":"left","baseline":"top","fontSize":5.8,"color":"#000000","dx":1,"dy":2.5},
    "encoding":{"x":{"datum":0,"type":"quantitative","scale":{"domain":[0,778],"nice":false,"zero":false},"axis":null},
     "y":{"datum":72.97,"type":"quantitative","scale":{"domain":[38.82,72.97],"nice":false,"zero":false},"axis":{"orient":"right","values":[70.6,66.85,63.1,59.35,55.6,51.85,48.1,44.35,40.6],"format":".2f","grid":false,"labelFlush":false}},"text":{"field":"h"}}},
   {"data":{"values":[{"tag":"65.00"}]},"mark":{"type":"rect","color":"#000000"},
    "encoding":{"x":{"datum":779,"type":"quantitative","scale":{"domain":[0,778],"nice":false,"zero":false},"axis":null},"x2":{"datum":800},
     "y":{"datum":65.72,"type":"quantitative","scale":{"domain":[38.82,72.97],"nice":false,"zero":false},"axis":{"orient":"right","values":[70.6,66.85,63.1,59.35,55.6,51.85,48.1,44.35,40.6],"format":".2f","grid":false,"labelFlush":false}},"y2":{"datum":64.28}}},
   {"data":{"values":[{"tag":"65.00"}]},"mark":{"type":"text","align":"left","baseline":"middle","fontSize":5.8,"color":"#ffffff"},
    "encoding":{"x":{"datum":780,"type":"quantitative","scale":{"domain":[0,778],"nice":false,"zero":false},"axis":null},
     "y":{"datum":65.0,"type":"quantitative","scale":{"domain":[38.82,72.97],"nice":false,"zero":false},"axis":{"orient":"right","values":[70.6,66.85,63.1,59.35,55.6,51.85,48.1,44.35,40.6],"format":".2f","grid":false,"labelFlush":false}},"text":{"field":"tag"}}}
  ]
 },
 {
  "width":778,"height":79,
  "resolve":{"scale":{"color":"independent"}},
  "layer":[
   {"data":{"name":"grid"},"mark":{"type":"rule","stroke":"#c4c4c4","strokeDash":[1,2]},
    "encoding":{"x":{"field":"g","type":"quantitative","scale":{"domain":[0,778],"nice":false,"zero":false},"axis":null}}},
   {"data":{"name":"rsi"},"mark":{"type":"line","strokeWidth":1.1},
    "encoding":{"x":{"field":"x","type":"quantitative","scale":{"domain":[0,778],"nice":false,"zero":false},"axis":null},
     "y":{"field":"v","type":"quantitative","scale":{"domain":[17.3539,87.5495],"nice":false,"zero":false},
      "axis":{"orient":"right","values":[17.3539,30,50,70,87.5495],"labelExpr":"'' + datum.value","grid":true,"gridDash":[1,2],"gridColor":"#b8b8b8","labelFlush":true,"labelFontSize":5.5,"labelPadding":1}},
     "color":{"field":"k","type":"nominal","scale":{"domain":["y","r","b"],"range":["#ffd21e","#c8504b","#262626"]},"legend":null}}},
   {"data":{"values":[{"x":452,"v":81.33},{"x":772,"v":63.55}]},"mark":{"type":"line","stroke":"#2a2ae6","strokeWidth":1.8},
    "encoding":{"x":{"field":"x","type":"quantitative","scale":{"domain":[0,778],"nice":false,"zero":false},"axis":null},
     "y":{"field":"v","type":"quantitative","scale":{"domain":[17.3539,87.5495],"nice":false,"zero":false},"axis":{"orient":"right","values":[17.3539,30,50,70,87.5495],"labelExpr":"'' + datum.value","grid":true,"gridDash":[1,2],"gridColor":"#b8b8b8","labelFlush":true,"labelFontSize":5.5,"labelPadding":1}}}},
   {"data":{"values":[{"h":"RSI(14) 59.5992  =>MA(13) 57.1564  =>Bands(35) 42.4785  RSI(8) 65.6803  ->MA(8) 64.2722"}]},"mark":{"type":"text","align":"left","baseline":"top","fontSize":5.8,"color":"#000000","dx":2,"dy":2},
    "encoding":{"x":{"datum":0,"type":"quantitative","scale":{"domain":[0,778],"nice":false,"zero":false},"axis":null},
     "y":{"datum":87.5495,"type":"quantitative","scale":{"domain":[17.3539,87.5495],"nice":false,"zero":false},"axis":{"orient":"right","values":[17.3539,30,50,70,87.5495],"labelExpr":"'' + datum.value","grid":true,"gridDash":[1,2],"gridColor":"#b8b8b8","labelFlush":true,"labelFontSize":5.5,"labelPadding":1}},"text":{"field":"h"}}}
  ]
 },
 {
  "width":778,"height":89,
  "resolve":{"scale":{"color":"independent"}},
  "layer":[
   {"data":{"name":"grid"},"mark":{"type":"rule","stroke":"#c4c4c4","strokeDash":[1,2]},
    "encoding":{"x":{"field":"g","type":"quantitative","scale":{"domain":[0,778],"nice":false,"zero":false},"axis":{"orient":"bottom","values":[0,37.44,74.88,112.32,149.76,187.2,224.64,262.08,299.52,336.96,374.4,411.84,449.28,486.72,524.16,561.6,599.04,636.48,673.92]}}}},
   {"data":{"name":"bb"},"mark":{"type":"area","opacity":1},
    "encoding":{"x":{"field":"x","type":"quantitative","scale":{"domain":[0,778],"nice":false,"zero":false},"axis":{"orient":"bottom","values":[0,37.44,74.88,112.32,149.76,187.2,224.64,262.08,299.52,336.96,374.4,411.84,449.28,486.72,524.16,561.6,599.04,636.48,673.92]}},
     "y":{"field":"v","type":"quantitative","stack":null,"scale":{"domain":[-0.3346,0.452],"nice":false,"zero":false},
      "axis":{"orient":"right","values":[-0.3346,0,0.452],"labelExpr":"datum.value == 0 ? '0.00' : '' + datum.value","grid":true,"gridDash":[1,2],"gridColor":"#b8b8b8","labelFlush":true,"labelPadding":1,"labelFontSize":5.4}},
     "detail":{"field":"s","type":"nominal"},
     "color":{"field":"c","type":"nominal","scale":{"domain":["dg","lg","rd","or"],"range":["#3c9b3c","#3cf03c","#ff3434","#ffb432"]},"legend":null}}},
   {"data":{"name":"bb"},"mark":{"type":"line","stroke":"#9a9a9a","strokeWidth":0.8},
    "encoding":{"x":{"field":"x","type":"quantitative","scale":{"domain":[0,778],"nice":false,"zero":false},"axis":{"orient":"bottom","values":[0,37.44,74.88,112.32,149.76,187.2,224.64,262.08,299.52,336.96,374.4,411.84,449.28,486.72,524.16,561.6,599.04,636.48,673.92]}},
     "y":{"field":"v","type":"quantitative","scale":{"domain":[-0.3346,0.452],"nice":false,"zero":false},"axis":{"orient":"right","values":[-0.3346,0,0.452],"labelExpr":"datum.value == 0 ? '0.00' : '' + datum.value","grid":true,"gridDash":[1,2],"gridColor":"#b8b8b8","labelFlush":true,"labelPadding":1,"labelFontSize":5.4}},
     "detail":{"field":"s","type":"nominal"}}},
   {"data":{"values":[{"z":0}]},"mark":{"type":"rule","stroke":"#e4741e","strokeWidth":1.5},
    "encoding":{"x":{"datum":0,"type":"quantitative","scale":{"domain":[0,778],"nice":false,"zero":false},"axis":{"orient":"bottom","values":[0,37.44,74.88,112.32,149.76,187.2,224.64,262.08,299.52,336.96,374.4,411.84,449.28,486.72,524.16,561.6,599.04,636.48,673.92]}},"x2":{"datum":698},
     "y":{"field":"z","type":"quantitative","scale":{"domain":[-0.3346,0.452],"nice":false,"zero":false},"axis":{"orient":"right","values":[-0.3346,0,0.452],"labelExpr":"datum.value == 0 ? '0.00' : '' + datum.value","grid":true,"gridDash":[1,2],"gridColor":"#b8b8b8","labelFlush":true,"labelPadding":1,"labelFontSize":5.4}}}},
   {"data":{"values":[{"h":"H4 BRENTCASH bbsqueeze(21) 0.1520 0.1520 0.0000"}]},"mark":{"type":"text","align":"left","baseline":"top","fontSize":5.8,"color":"#000000","dx":2,"dy":2},
    "encoding":{"x":{"datum":0,"type":"quantitative","scale":{"domain":[0,778],"nice":false,"zero":false},"axis":{"orient":"bottom","values":[0,37.44,74.88,112.32,149.76,187.2,224.64,262.08,299.52,336.96,374.4,411.84,449.28,486.72,524.16,561.6,599.04,636.48,673.92]}},
     "y":{"datum":0.452,"type":"quantitative","scale":{"domain":[-0.3346,0.452],"nice":false,"zero":false},"axis":{"orient":"right","values":[-0.3346,0,0.452],"labelExpr":"datum.value == 0 ? '0.00' : '' + datum.value","grid":true,"gridDash":[1,2],"gridColor":"#b8b8b8","labelFlush":true,"labelPadding":1,"labelFontSize":5.4}},"text":{"field":"h"}}}
  ]
 }
]
}
